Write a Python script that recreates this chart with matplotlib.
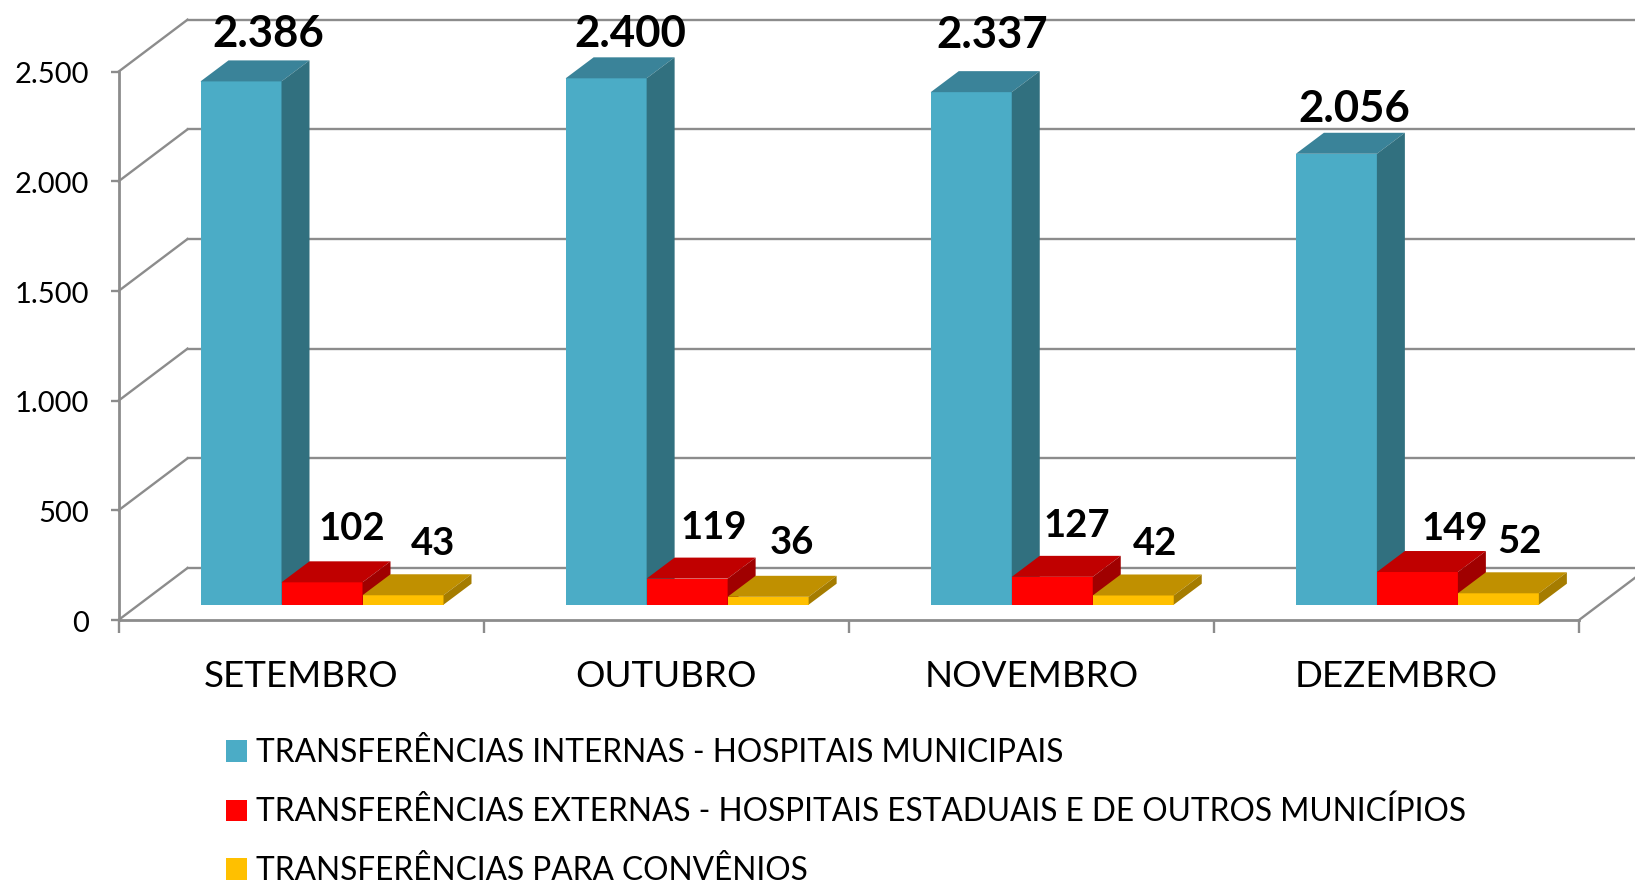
import matplotlib
matplotlib.use("Agg")
import matplotlib.pyplot as plt
from matplotlib.patches import Polygon
from matplotlib.transforms import Affine2D

plt.rcParams["font.family"] = ["Lato", "DejaVu Sans"]

# Data
months = ["SETEMBRO", "OUTUBRO", "NOVEMBRO", "DEZEMBRO"]
internas = [2386, 2400, 2337, 2056]
externas = [102, 119, 127, 149]
convenios = [43, 36, 42, 52]
series_names = [
    "TRANSFERÊNCIAS INTERNAS - HOSPITAIS MUNICIPAIS",
    "TRANSFERÊNCIAS EXTERNAS - HOSPITAIS ESTADUAIS E DE OUTROS MUNICÍPIOS",
    "TRANSFERÊNCIAS PARA CONVÊNIOS",
]
y_ticks = [0, 500, 1000, 1500, 2000, 2500]

# Colours: front, top, side
colors = [
    ("#4BACC6", "#3A8399", "#31707F"),
    ("#FF0000", "#C00000", "#A00000"),
    ("#FFC000", "#C09000", "#A57C00"),
]
grid_color = "#8C8C8C"

W, H = 1635, 886
fig = plt.figure(figsize=(W / 100, H / 100), dpi=100)
ax = fig.add_axes([118.5 / W, (H - 620) / H, 1460.5 / W, 548.3 / H])
ax.set_xlim(0, 4)
ax.set_ylim(0, 2500)

# pixels to data units, the fake 3D is just offsets
px_x = 4 / 1460.5
px_y = 2500 / 548.3
wall_dx, wall_dy = 69 * px_x, 52 * px_y
base_dy = 15.3 * px_y
bar_w = 81 * px_x
depth_dx, depth_dy = 28 * px_x, 21 * px_y
group_start = 82 * px_x

# Back wall and floor
for v in y_ticks:
    ax.plot([0, wall_dx], [v, v + wall_dy], color=grid_color, lw=1.7, clip_on=False, zorder=1)
    ax.plot([wall_dx, 4 + wall_dx], [v + wall_dy, v + wall_dy], color=grid_color, lw=1.7, clip_on=False, zorder=1)
ax.plot([4, 4 + wall_dx], [0, wall_dy], color=grid_color, lw=1.7, clip_on=False, zorder=1)

# Bars, left to right so the nearer faces paint over
handles = []
for j, values in enumerate([internas, externas, convenios]):
    front, top, side = colors[j]
    xs = [i + group_start + j * bar_w for i in range(4)]
    bars = ax.bar(xs, values, bar_w, bottom=base_dy, align="edge", color=front, zorder=3 + j, clip_on=False)
    handles.append(bars[0])
    for x, v in zip(xs, values):
        y0, y1 = base_dy, base_dy + v
        ax.add_patch(Polygon([(x, y1), (x + bar_w, y1), (x + bar_w + depth_dx, y1 + depth_dy), (x + depth_dx, y1 + depth_dy)],
                             color=top, lw=0, zorder=3 + j, clip_on=False))
        ax.add_patch(Polygon([(x + bar_w, y0), (x + bar_w + depth_dx, y0 + depth_dy), (x + bar_w + depth_dx, y1 + depth_dy), (x + bar_w, y1)],
                             color=side, lw=0, zorder=3 + j, clip_on=False))

# Data labels were moved by hand in the original, so each has its own nudge (pixels)
label_nudge = [
    [(27, 47), (24, 44), (21, 57), (18, 44.5)],
    [(30, 53), (27, 51), (24, 50.6), (37, 43)],
    [(30, 51), (24, 54), (22, 51), (21, 51)],
]
label_size = [31.5, 27.5, 27.5]
for j, values in enumerate([internas, externas, convenios]):
    for i, v in enumerate(values):
        x = i + group_start + (j + 0.5) * bar_w
        dx, dy = label_nudge[j][i]
        ax.annotate(f"{v:,}".replace(",", "."), (x, base_dy + v), xytext=(dx, dy), textcoords="offset pixels",
                    ha="center", va="center", fontsize=label_size[j], fontweight="bold", color="black",
                    annotation_clip=False, zorder=10)

# Axes
for name in ["top", "right"]:
    ax.spines[name].set_visible(False)
for name in ["left", "bottom"]:
    ax.spines[name].set_color(grid_color)
    ax.spines[name].set_linewidth(2)
    ax.spines[name].set_zorder(2)
ax.set_yticks(y_ticks)
ax.set_yticklabels([f"{v:,}".replace(",", ".") for v in y_ticks])
ax.tick_params(axis="y", length=6, width=1.7, color=grid_color, pad=15, labelsize=21)
for lbl in ax.get_yticklabels():
    lbl.set_transform(lbl.get_transform() + Affine2D().translate(0, -1))
ax.set_xticks(range(5))
ax.set_xticklabels([])
ax.tick_params(axis="x", which="major", length=9, width=1.7, color=grid_color)
ax.set_xticks([i + 0.5 for i in range(4)], minor=True)
ax.set_xticklabels(months, minor=True)
ax.tick_params(axis="x", which="minor", length=0, pad=29, labelsize=26.5)

# third row sits right on the bottom edge, spacing a touch tighter so it stays whole
ax.legend(handles, series_names, loc="upper left", bbox_to_anchor=(226 / W, (H - 738) / H),
          bbox_transform=fig.transFigure, frameon=False, fontsize=22.8, handlelength=0.66, handleheight=0.66,
          handletextpad=0.3, labelspacing=0.91, borderpad=0, borderaxespad=0)

fig.savefig("out.png", dpi=100)
